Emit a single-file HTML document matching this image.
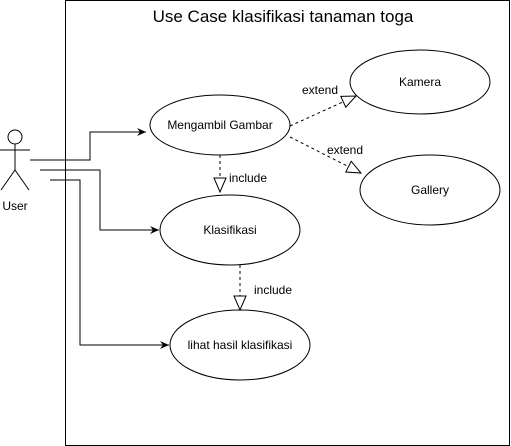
<!DOCTYPE html>
<html><head><style>body{margin:0;background:#fff}svg{display:block}</style></head><body>
<svg width="511" height="446" viewBox="0 0 511 446" xmlns="http://www.w3.org/2000/svg" font-family="Liberation Sans, sans-serif" font-size="12" fill="none" stroke="#000">
<defs>
<marker id="a" markerWidth="10" markerHeight="10" refX="9" refY="5" orient="auto" markerUnits="userSpaceOnUse"><path d="M0,1 L9,5 L0,9 L3,5 Z" fill="#000" stroke="none"/></marker>
<marker id="t" markerWidth="16" markerHeight="16" refX="15" refY="8" orient="auto" markerUnits="userSpaceOnUse"><path d="M1,2 L15,8 L1,14 Z" fill="#fff" stroke="#000"/></marker>
</defs>
<rect x="65.5" y="0.5" width="444" height="445" stroke="#000"/>
<text x="283" y="22" font-size="17" fill="#000" stroke="none" text-anchor="middle">Use Case klasifikasi tanaman toga</text>
<circle cx="15" cy="137" r="7"/>
<path d="M15,144 V170 M0,150 H30 M15,170 L1,190 M15,170 L29,190"/>
<text x="15" y="210" fill="#000" stroke="none" text-anchor="middle">User</text>
<ellipse cx="220" cy="125" rx="70" ry="30"/>
<ellipse cx="420" cy="82" rx="70" ry="32"/>
<ellipse cx="430" cy="190" rx="70" ry="35"/>
<ellipse cx="230" cy="230" rx="70" ry="35"/>
<ellipse cx="240" cy="345" rx="70" ry="35"/>
<g fill="#000" stroke="none" text-anchor="middle">
<text x="220" y="129">Mengambil Gambar</text>
<text x="420" y="86">Kamera</text>
<text x="430" y="194">Gallery</text>
<text x="230" y="234">Klasifikasi</text>
<text x="240" y="349">lihat hasil klasifikasi</text>
<text x="248" y="182">include</text>
<text x="273" y="294">include</text>
<text x="320" y="94">extend</text>
<text x="345" y="154">extend</text>
</g>
<path d="M30,160 H90 V132 H146" marker-end="url(#a)"/>
<path d="M40,170 H100 V230 H159" marker-end="url(#a)"/>
<path d="M50,180 H80 V345 H169" marker-end="url(#a)"/>
<path d="M220,155 V192" stroke-dasharray="3,3" marker-end="url(#t)"/>
<path d="M240,265 V310" stroke-dasharray="3,3" marker-end="url(#t)"/>
<path d="M290,126 L356,96" stroke-dasharray="3,3" marker-end="url(#t)"/>
<path d="M290,137 L361,173" stroke-dasharray="3,3" marker-end="url(#t)"/>
</svg>
</body></html>
